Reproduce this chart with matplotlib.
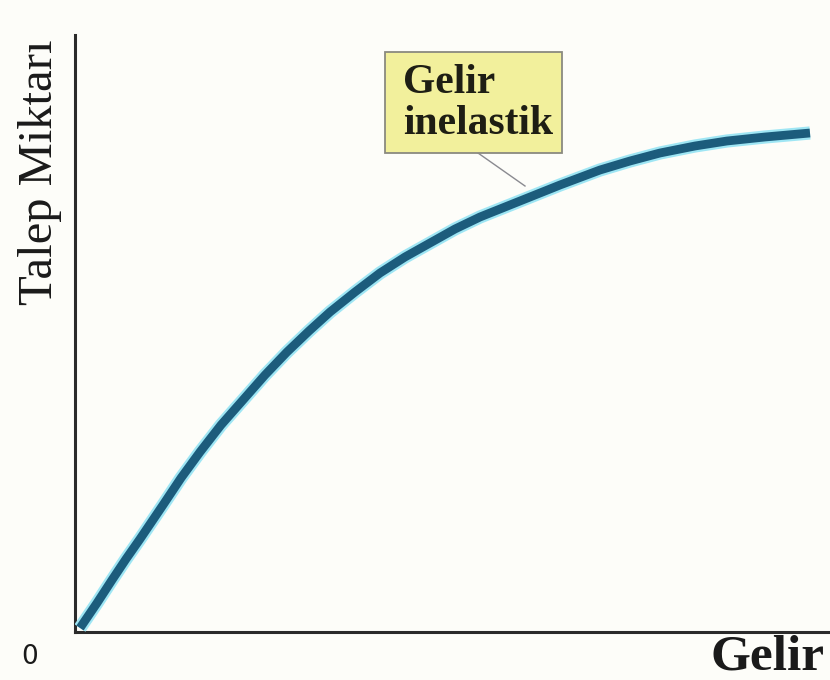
import matplotlib
matplotlib.use("Agg")
import matplotlib.pyplot as plt
from matplotlib.patches import Rectangle

# income (x) vs quantity demanded (y)
gelir = [5, 22, 37, 51, 65, 88, 106, 125, 146, 168, 190, 212, 234, 255, 280,
         305, 330, 355, 380, 405, 430, 455, 485, 525, 555, 585, 620, 652, 690, 735]
talep = [4, 29, 52, 73, 93, 127, 154, 180, 207, 232, 257, 280, 301, 320, 340,
         359, 375, 389, 403, 415, 425, 435, 447, 462, 471, 479, 486, 491, 495, 499]

x_label = "Gelir"
y_label = "Talep Miktarı"
origin_label = "0"
note_text = "Gelir\ninelastik"

serif = ["Liberation Serif", "DejaVu Serif"]

fig = plt.figure(figsize=(8.3, 6.8), dpi=100)
fig.patch.set_facecolor("#fdfdf9")
ax = fig.add_axes([75 / 830, 48 / 680, 755 / 830, 597 / 680])
ax.set_facecolor("#fdfdf9")
ax.set_xlim(0, 755)
ax.set_ylim(0, 597)

for side in ("top", "right"):
    ax.spines[side].set_visible(False)
for side in ("left", "bottom"):
    ax.spines[side].set_color("#2b2b2b")
    ax.spines[side].set_linewidth(2.2)
ax.set_xticks([])
ax.set_yticks([])

# curve: light cyan halo under a dark teal line
ax.plot(gelir, talep, color="#9fe6f4", lw=9.5, solid_capstyle="butt",
        solid_joinstyle="round", zorder=3)
ax.plot(gelir, talep, color="#1c5c7c", lw=6.3, solid_capstyle="butt",
        solid_joinstyle="round", zorder=4)

# note box with pointer
ax.add_patch(Rectangle((310, 479), 177, 101, facecolor="#f2f09c",
                       edgecolor="#8a8a80", lw=1.3, zorder=5, clip_on=False))
ax.plot([403, 450], [479, 446], color="#8a8a90", lw=1.0, zorder=2)
ax.text(328, 568, note_text, family=serif, fontsize=30, fontweight="bold",
        color="#1e1e14", va="top", ha="left", linespacing=1.12, zorder=6)

# axis texts
fig.text(40 / 830, 1 - 172 / 680, y_label, family=serif, fontsize=35,
         rotation=90, ha="center", va="center", color="#1a1a1a")
fig.text(1 - 6 / 830, 10 / 680, x_label, family=serif, fontsize=37,
         fontweight="bold", ha="right", va="baseline", color="#1a1a1a")
fig.text(30 / 830, 1 - 657 / 680, origin_label, family=["DejaVu Sans"],
         fontsize=19, ha="center", va="center", color="#1a1a1a")

fig.savefig("out.png", dpi=100, facecolor=fig.get_facecolor())
